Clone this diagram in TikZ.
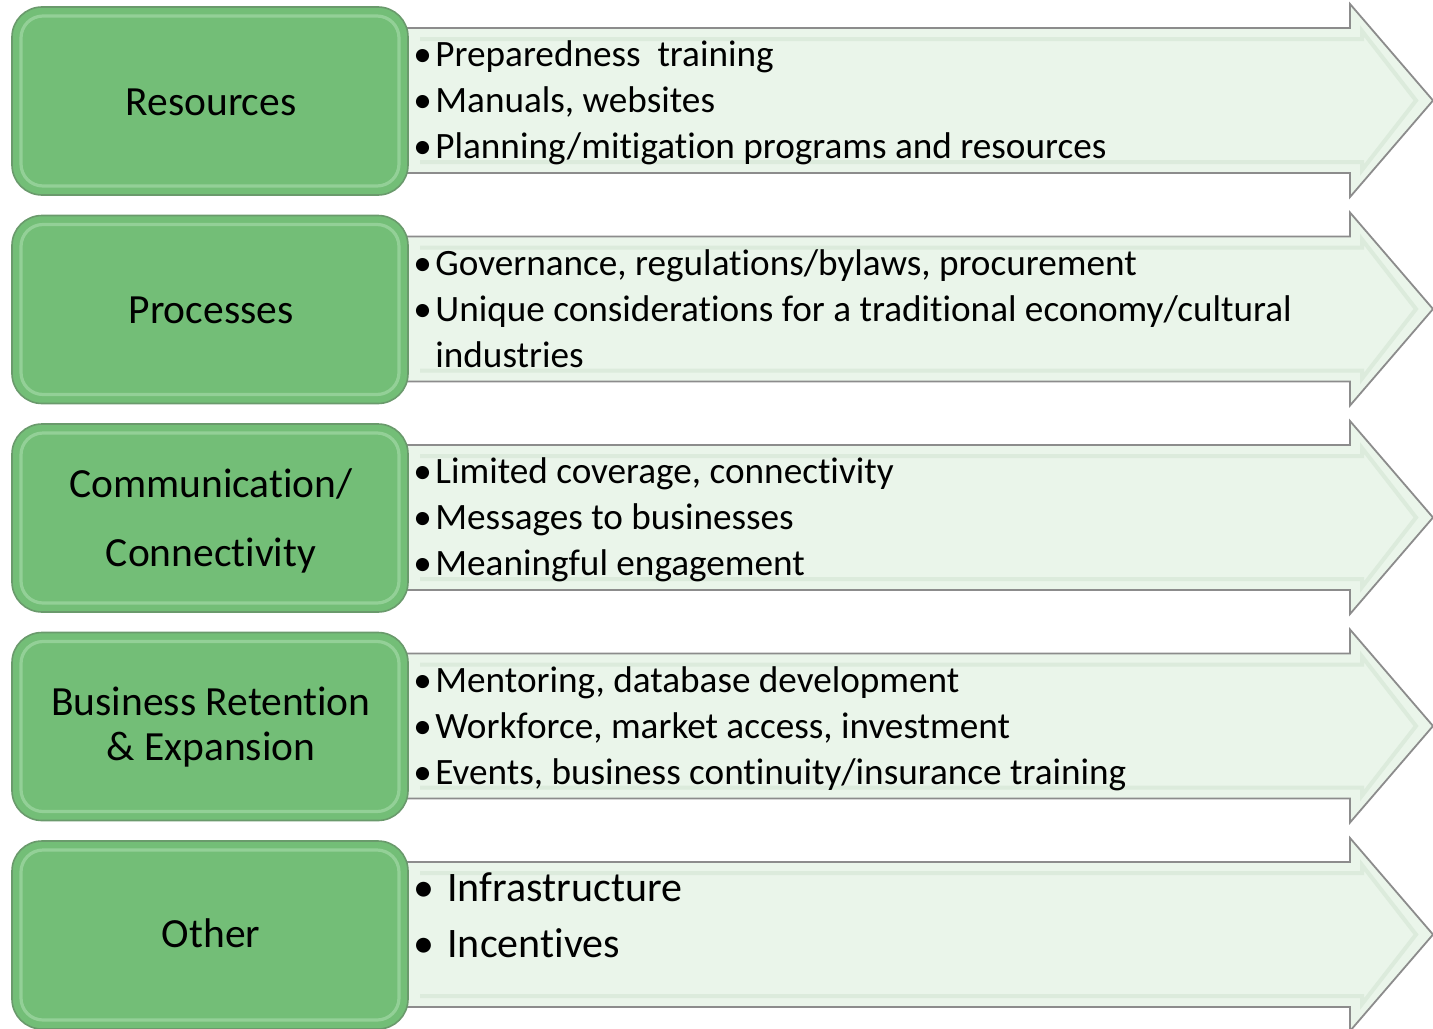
\documentclass[tikz,border=0pt]{standalone}
\usepackage{fontspec}
\setmainfont{Carlito}[Ligatures=NoCommon]
\definecolor{boxgreen}{HTML}{73BE77}
\definecolor{boxedge}{HTML}{6A9A6C}
\definecolor{boxlight}{HTML}{A2D8A5}
\definecolor{arrowfill}{HTML}{EAF5EA}
\definecolor{arrowedge}{HTML}{8C8C8C}
\definecolor{arrowbevel}{HTML}{DCEBDC}
\newcommand{\bul}{\makebox[11pt][l]{•}}
\newcommand{\bulw}{\makebox[17pt][l]{•}}
\begin{document}
\begin{tikzpicture}[x=0.5pt,y=-0.5pt,
  gbox/.style={draw=boxedge, line width=0.8pt, fill=boxgreen, rounded corners=15pt,
    minimum width=198pt, minimum height=94pt, inner sep=0pt},
  glabel/.style={anchor=base, inner sep=0pt, font=\fontsize{20.75}{24}\selectfont},
  item/.style={anchor=base west, inner sep=0pt, font=\fontsize{18.6}{22}\selectfont},
  bigitem/.style={anchor=base west, inner sep=0pt, font=\fontsize{21}{24}\selectfont},
  arrowshape/.style={draw=arrowedge, line width=0.9pt, fill=arrowfill},
  bevel/.style={draw=arrowbevel, line width=2pt},
  glow/.style={draw=boxlight, line width=1.6pt, rounded corners=11pt, draw opacity=0.7}
]
\useasboundingbox (0,0) rectangle (1433,1028);
\fill[white] (0,0) rectangle (1433,1028);
\foreach \t [count=\i] in {7,215.5,424,632.5,841}{
  \draw[arrowshape] (400,\t+21) -- (1350,\t+21) -- (1350,\t-3) -- (1433,\t+93.5)
     -- (1350,\t+190) -- (1350,\t+166) -- (400,\t+166) -- cycle;
  \draw[bevel] (420,\t+32) -- (1362,\t+32) -- (1362,\t+24) -- (1416,\t+93.5)
     -- (1362,\t+163) -- (1362,\t+155) -- (420,\t+155);
  \node[gbox] (g\i) at (210,\t+94) {};
  \draw[glow] (21,\t+9) rectangle (399,\t+179);
}
% labels
\node[glabel] (l1) at (211,115) {Resources};
\node[glabel] (l2) at (211,323) {Processes};
\node[glabel] (l3a) at (211,497) {Communication/};
\node[glabel] (l3b) at (211,566) {Connectivity};
\node[glabel] (l4a) at (211,715) {Business Retention};
\node[glabel] (l4b) at (211,760) {\& Expansion};
\node[glabel] (l5) at (211,947) {Other};
% row 1
\node[item] (a1) at (413,66) {\bul Preparedness\ \ training};
\node[item] (a2) at (413,112) {\bul Manuals, websites};
\node[item] (a3) at (413,158) {\bul Planning/mitigation programs and resources};
% row 2
\node[item] (b1) at (413,275) {\bul Governance, regulations/bylaws, procurement};
\node[item] (b2) at (413,321) {\bul Unique considerations for a traditional economy/cultural};
\node[item] (b3) at (413,367) {\hspace*{11pt}industries};
% row 3
\node[item] (c1) at (413,483) {\bul Limited coverage, connectivity};
\node[item] (c2) at (413,529) {\bul Messages to businesses};
\node[item] (c3) at (413,575) {\bul Meaningful engagement};
% row 4
\node[item] (d1) at (413,692) {\bul Mentoring, database development};
\node[item] (d2) at (413,738) {\bul Workforce, market access, investment};
\node[item] (d3) at (413,784) {\bul Events, business continuity/insurance training};
% row 5
\node[bigitem] (e1) at (413,901) {\bulw Infrastructure};
\node[bigitem] (e2) at (413,957) {\bulw Incentives};
\end{tikzpicture}
\end{document}
